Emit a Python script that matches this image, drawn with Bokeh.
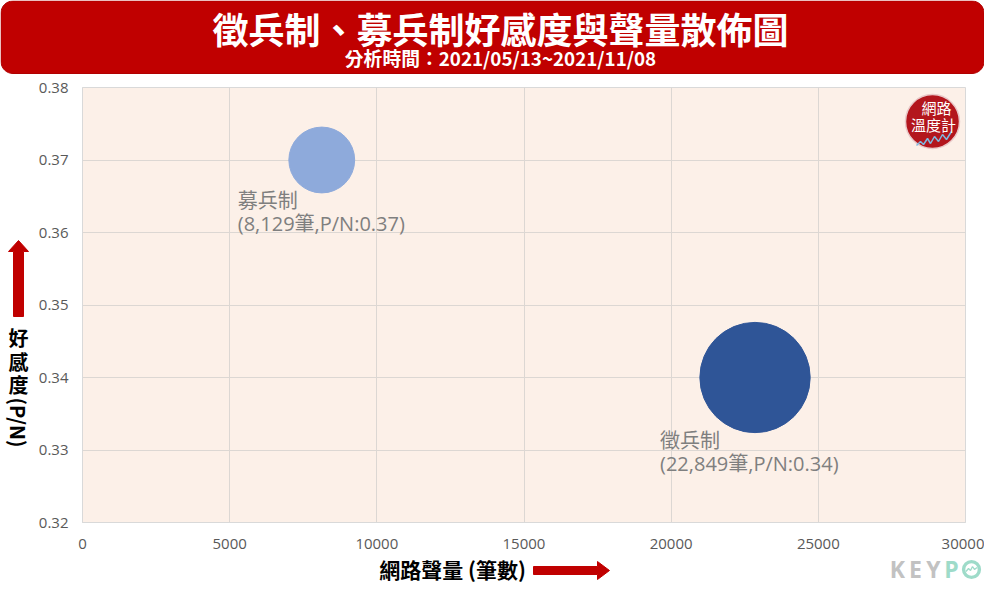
import math
from bokeh.plotting import figure
from bokeh.models import (ColumnDataSource, LabelSet, Label, FixedTicker, Range1d, GridBox)
from bokeh.core.properties import value
from bokeh.embed import file_html
from bokeh.resources import INLINE

# ---------------- data ----------------
names = ["募兵制", "徵兵制"]
volumes = [8129, 22849]
pn_ratio = [0.37, 0.34]
x_ticks = [0, 5000, 10000, 15000, 20000, 25000, 30000]
x_tick_labels = ["0", "5000", "10000", "15000", "20000", "25000", "30000"]
y_ticks = [0.32, 0.33, 0.34, 0.35, 0.36, 0.37, 0.38]
y_tick_labels = ["0.32", "0.33", "0.34", "0.35", "0.36", "0.37", "0.38"]
title_text = "徵兵制、募兵制好感度與聲量散佈圖"
subtitle_text = "分析時間：2021/05/13~2021/11/08"
x_label_text = "網路聲量 (筆數)"
y_label_chars = ["好", "感", "度"]
y_label_latin = "(P/N)"

# ---------------- styles / layout ----------------
W, H = 984, 583
FL, FR, FT, FB = 82, 965, 87, 522          # plot-area edges in px
X0, X1 = 0, 30000
Y0, Y1 = 0.32, 0.38
bubble_colors = {"募兵制": "#8eaadb", "徵兵制": "#2f5597"}
label_dx = {"募兵制": -84, "徵兵制": -95}
SIZE_K = 0.73
RED = "#c00000"
LABEL_FONT = "Open Sans, Noto Sans CJK TC"
CJK = "Noto Sans CJK TC"
GREY_LOGO = "#c2c2c2"
TEAL_LOGO = "#9edbc9"


def no_frame_align(fig):
    try:
        fig.frame_align = False
    except Exception:
        pass


# ---------------- main chart ----------------
p = figure(width=W, height=H, x_range=Range1d(X0, X1), y_range=Range1d(Y0, Y1),
           title=None, output_backend="svg", toolbar_location=None,
           min_border_left=FL, min_border_right=W - FR,
           min_border_top=FT, min_border_bottom=H - FB,
           background_fill_color="#fcf0e8", border_fill_color="white",
           outline_line_color="#d9d9d9")
no_frame_align(p)

p.xgrid.grid_line_color = "#dcd7d3"
p.ygrid.grid_line_color = "#dcd7d3"
p.xaxis.ticker = FixedTicker(ticks=x_ticks)
p.yaxis.ticker = FixedTicker(ticks=y_ticks)
p.xaxis.major_label_overrides = {t: l for t, l in zip(x_ticks, x_tick_labels)}
p.yaxis.major_label_overrides = {t: l for t, l in zip(y_ticks, y_tick_labels)}
for ax in (p.xaxis[0], p.yaxis[0]):
    ax.major_tick_line_color = None
    ax.minor_tick_line_color = None
    ax.major_tick_out = 0
    ax.major_tick_in = 0
    ax.minor_tick_out = 0
    ax.axis_line_color = "#d9d9d9"
    ax.major_label_text_color = "#595959"
    ax.major_label_text_font = "Open Sans"
    ax.major_label_text_font_size = "15px"
p.xaxis.major_label_standoff = 16
p.yaxis.major_label_standoff = 14

sizes = [SIZE_K * math.sqrt(v) for v in volumes]
src = ColumnDataSource(dict(
    x=volumes, y=pn_ratio, name=names,
    detail=[f"({v:,}筆,P/N:{r:.2f})" for v, r in zip(volumes, pn_ratio)],
    size=sizes,
    color=[bubble_colors[n] for n in names],
    xoff=[label_dx[n] for n in names],
    yoff1=[-(s / 2 + 8) for s in sizes],
    yoff2=[-(s / 2 + 31) for s in sizes],
))
p.scatter("x", "y", size="size", fill_color="color", line_color="color", source=src)

for col, yo in (("name", "yoff1"), ("detail", "yoff2")):
    p.add_layout(LabelSet(x="x", y="y", text=col, source=src,
                          x_offset="xoff", y_offset=yo,
                          text_align="left", text_baseline="middle",
                          text_font=value(LABEL_FONT), text_font_size=value("20px"),
                          text_color="#7f7f7f"))


def dx(px):
    return X0 + (px - FL) / (FR - FL) * (X1 - X0)


def dy(py):
    return Y1 - (py - FT) / (FB - FT) * (Y1 - Y0)


# "網路溫度計" badge (decoration inside the plot area)
cx, cy, r = 932, 121, 27
p.scatter([dx(cx)], [dy(cy)], size=2 * r, fill_color="#b3161d", line_color="#e9c9c9",
          line_width=1.5)
p.add_layout(Label(x=dx(936), y=dy(107), text="網路", text_align="center",
                   text_baseline="middle", text_font=CJK, text_font_size="15px",
                   text_color="white"))
p.add_layout(Label(x=dx(933), y=dy(124), text="溫度計", text_align="center",
                   text_baseline="middle", text_font=CJK, text_font_size="15px",
                   text_color="white"))
zz = [(916, 145), (920, 141), (923, 144), (927, 138), (930, 143), (934, 136),
      (938, 141), (942, 134), (946, 139), (951, 131)]
p.line([dx(a) for a, b in zz], [dy(b) for a, b in zz], line_color="#7fb8e0", line_width=1.5)

# ---------------- transparent decoration layer on top (pixel coords, y down) ----------------
deco = figure(width=W, height=H, x_range=Range1d(0, W), y_range=Range1d(H, 0),
              title=None, x_axis_location=None, y_axis_location=None, min_border=0,
              outline_line_color=None, toolbar_location=None, output_backend="svg",
              background_fill_alpha=0, border_fill_alpha=0)
deco.grid.visible = False
no_frame_align(deco)


def rounded_rect(x0, y0, x1, y1, r, n=8):
    pts = []
    corners = [(x1 - r, y0 + r, -90, 0), (x1 - r, y1 - r, 0, 90),
               (x0 + r, y1 - r, 90, 180), (x0 + r, y0 + r, 180, 270)]
    for cx, cy, a0, a1 in corners:
        for k in range(n + 1):
            a = math.radians(a0 + (a1 - a0) * k / n)
            pts.append((cx + r * math.cos(a), cy + r * math.sin(a)))
    return [a for a, b in pts], [b for a, b in pts]


bx, by = rounded_rect(0.5, 0.5, W - 0.5, 73, 12)
deco.patch(bx, by, fill_color=RED, line_color="#b00000", line_width=1)
deco.add_layout(Label(x=500, y=27, text=title_text, text_align="center",
                      text_baseline="middle", text_font=CJK, text_font_style="bold",
                      text_font_size="36px", text_color="white"))
deco.add_layout(Label(x=500, y=57, text=subtitle_text, text_align="center",
                      text_baseline="middle", text_font=CJK, text_font_style="bold",
                      text_font_size="18.8px", text_color="white"))

# y-axis title with upward arrow
ya = [(13, 316), (23, 316), (23, 251), (28, 251), (18, 240), (8, 251), (13, 251)]
deco.patch([a for a, b in ya], [b for a, b in ya], fill_color=RED, line_color=RED)
for ch, cy in zip(y_label_chars, (337, 361, 384)):
    deco.add_layout(Label(x=18, y=cy, text=ch, text_align="center",
                          text_baseline="middle", text_font=CJK, text_font_style="bold",
                          text_font_size="20px", text_color="black"))
deco.add_layout(Label(x=18, y=422, text=y_label_latin, angle=-math.pi / 2,
                      text_align="center", text_baseline="middle", text_font=CJK,
                      text_font_style="bold", text_font_size="20px", text_color="black"))

# x-axis title with right arrow
xa = [(533, 566), (597, 566), (597, 561), (609, 570), (597, 579), (597, 574), (533, 574)]
deco.patch([a for a, b in xa], [b for a, b in xa], fill_color=RED, line_color=RED)
deco.add_layout(Label(x=452, y=568, text=x_label_text, text_align="center",
                      text_baseline="middle", text_font=CJK, text_font_style="bold",
                      text_font_size="21px", text_color="black"))

# KEYPO mark
for ch, lx, col in (("K", 897, GREY_LOGO), ("E", 915, GREY_LOGO),
                    ("Y", 933, GREY_LOGO), ("P", 951, TEAL_LOGO)):
    deco.add_layout(Label(x=lx, y=568, text=ch, text_align="center",
                          text_baseline="middle", text_font="Open Sans",
                          text_font_style="bold", text_font_size="23px", text_color=col))
deco.annulus(x=[971], y=[569], inner_radius=6.2, outer_radius=9.6,
             fill_color=TEAL_LOGO, line_color=None)
deco.line([965.5, 968, 970, 972, 974, 976.5], [571, 568, 570, 566, 569, 567],
          line_color=TEAL_LOGO, line_width=1.3)

layout = GridBox(children=[(p, 0, 0), (deco, 0, 0)])
open("out.html", "w").write(file_html(layout, INLINE))
